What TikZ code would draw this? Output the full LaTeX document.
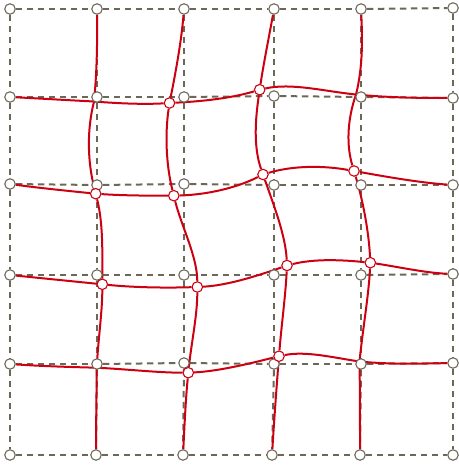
\documentclass[tikz,border=0pt]{standalone}
\usepackage{tikz}
\usetikzlibrary{backgrounds}
\definecolor{gridgray}{RGB}{108,104,88}
\definecolor{warpred}{RGB}{204,0,17}
\tikzset{
    gridpt/.style={circle, draw=gridgray, fill=white, line width=1.1pt, minimum size=10.5pt, inner sep=0pt},
    warppt/.style={gridpt, draw=warpred},
    gridln/.style={draw=gridgray, line width=2pt, dash pattern=on 6.5pt off 4.5pt},
    warpln/.style={draw=warpred, line width=2pt}
}
\begin{document}
\begin{tikzpicture}[x=1pt, y=-1pt]
  \useasboundingbox (0,0) rectangle (458,465);

  % regular grid
  \foreach \n/\x/\y in {00/10/9, 01/97/9, 02/184/9, 03/274/9, 04/361/9, 05/453/8,
                        10/10/97, 11/97/97, 12/184/97, 13/274/96, 14/361/97, 15/453/98,
                        20/10/184, 21/97/185, 22/184/184, 23/274/185, 24/361/185, 25/453/185,
                        30/10/275, 31/97/275, 32/184/275, 33/274/275, 34/361/275, 35/453/274,
                        40/10/364, 41/97/364, 42/184/363, 43/274/364, 44/361/364, 45/453/363,
                        50/10/455, 51/96/455, 52/183/455, 53/272/455, 54/360/455, 55/453/455}
    \node[gridpt] (p\n) at (\x,\y) {};

  % warped points
  \foreach \n/\x/\y in {12/169.5/103, 13/259.7/89.7, 21/95.7/193.7, 22/173.8/195.7,
                        23/263/174.5, 24/354/171, 31/102.3/284.3, 32/197.3/287,
                        33/287/265.5, 34/370.3/262.7, 42/188.3/372.7, 43/279/356.2}
    \node[warppt] (q\n) at (\x,\y) {};
  \coordinate (q11) at (94,101.5);
  \coordinate (q14) at (356,94.5);
  \coordinate (q41) at (96.7,367.7);
  \coordinate (q44) at (359.5,361.5);

  \begin{scope}[on background layer]
    \foreach \r in {0,...,5}
      \foreach \a/\b in {0/1, 1/2, 2/3, 3/4, 4/5} {
        \draw[gridln] (p\r\a) -- (p\r\b);
        \draw[gridln] (p\a\r) -- (p\b\r);
      }

    % warped columns
    \draw[warpln] (p01) .. controls (97.3,39.8) and (97.1,70.7) .. (q11)
                        .. controls (86.3,132.2) and (88,163) .. (q21)
                        .. controls (103.3,223.9) and (102.3,254.1) .. (q31)
                        .. controls (102.3,312.1) and (98.1,339.9) .. (q41)
                        .. controls (96.6,396.8) and (96,425.9) .. (p51);
    \draw[warpln] (p02) .. controls (181.5,40.3) and (175.8,71.7) .. (q12)
                        .. controls (164.9,133.9) and (166.1,164.8) .. (q22)
                        .. controls (181.4,226.1) and (197.3,256.6) .. (q32)
                        .. controls (197.3,315.6) and (191.2,344.1) .. (q42)
                        .. controls (185.6,400.1) and (184.4,427.6) .. (p52);
    \draw[warpln] (p03) .. controls (269.2,35.9) and (263.7,62.8) .. (q13)
                        .. controls (255.5,118) and (253.1,146.2) .. (q23)
                        .. controls (273.6,204.8) and (285.5,235.2) .. (q33)
                        .. controls (285.5,295.7) and (281.4,326) .. (q43)
                        .. controls (276.4,389.1) and (274,422.1) .. (p53);
    \draw[warpln] (p04) .. controls (362.4,37.5) and (363.1,66) .. (q14)
                        .. controls (347.1,120) and (346.35,145.5) .. (q24)
                        .. controls (363.2,201.6) and (368.8,232.1) .. (q34)
                        .. controls (368.7,295.6) and (362.8,328.6) .. (q44)
                        .. controls (360,392.7) and (360,423.8) .. (p54);

    % warped rows
    \draw[warpln] (p10) .. controls (38,98.4) and (66,100.1) .. (q11)
                        .. controls (119.2,103.5) and (144.3,104.5) .. (q12)
                        .. controls (199.6,101.5) and (229.6,98.7) .. (q13)
                        .. controls (291.8,82.6) and (323.9,91.3) .. (q14)
                        .. controls (388.3,97.7) and (420.7,98) .. (p15);
    \draw[warpln] (p20) .. controls (38.6,187.9) and (67.1,190.8) .. (q21)
                        .. controls (121.7,195.5) and (147.8,195.7) .. (q22)
                        .. controls (203.5,194.8) and (233.3,189.35) .. (q23)
                        .. controls (293.3,165.4) and (323.7,165.5) .. (q24)
                        .. controls (387,176.9) and (420,182.7) .. (p25);
    \draw[warpln] (p30) .. controls (40.8,278.1) and (71.5,281.2) .. (q31)
                        .. controls (134,287.5) and (165.6,288) .. (q32)
                        .. controls (227.2,285.5) and (257.1,275.9) .. (q33)
                        .. controls (314.8,258.5) and (342.5,259.9) .. (q34)
                        .. controls (397.9,266.8) and (425.4,272.9) .. (p35);
    \draw[warpln] (p40) .. controls (38.9,366) and (67.8,367) .. (q41)
                        .. controls (127.2,369.2) and (157.8,372.7) .. (q42)
                        .. controls (218.5,371.2) and (248.8,363.8) .. (q43)
                        .. controls (305.8,350.8) and (332.7,357.5) .. (q44)
                        .. controls (390.7,364.6) and (421.8,363.6) .. (p45);
  \end{scope}
\end{tikzpicture}
\end{document}
